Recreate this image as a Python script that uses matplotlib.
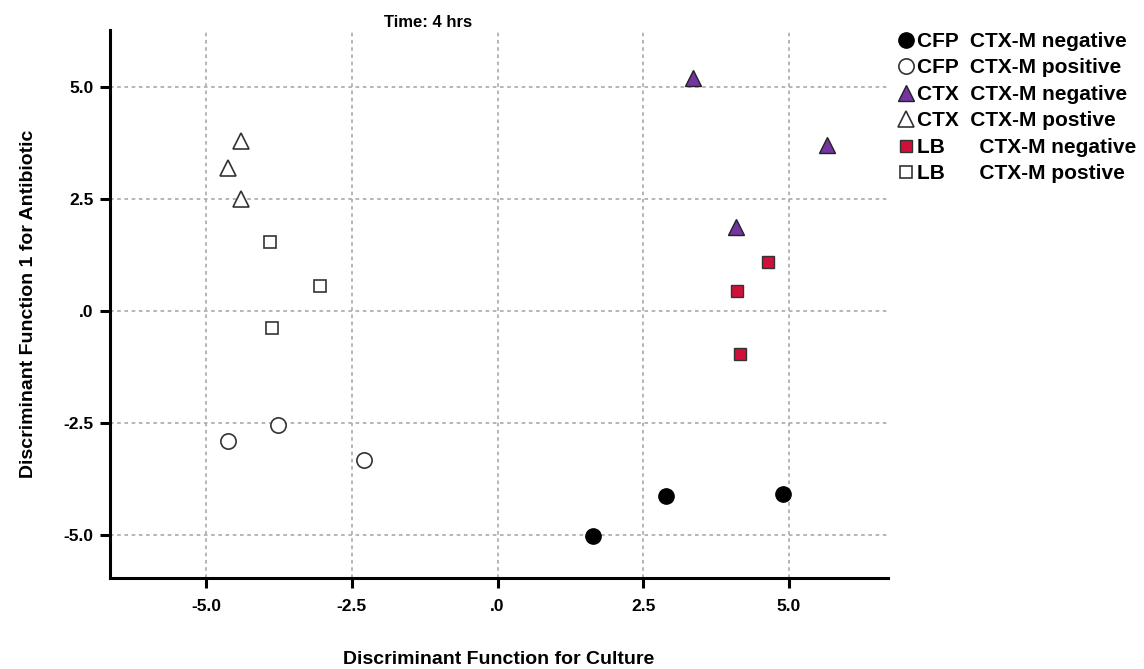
import matplotlib
matplotlib.use("Agg")
import matplotlib.pyplot as plt

plt.rcParams['font.family'] = ['Liberation Sans', 'DejaVu Sans']

# group scores
cfp_neg_x = [1.63, 2.89, 4.90]
cfp_neg_y = [-5.02, -4.13, -4.08]
cfp_pos_x = [-4.62, -3.76, -2.30]
cfp_pos_y = [-2.90, -2.54, -3.33]
ctx_neg_x = [3.35, 5.65, 4.09]
ctx_neg_y = [5.20, 3.71, 1.88]
ctx_pos_x = [-4.40, -4.62, -4.40]
ctx_pos_y = [3.79, 3.19, 2.50]
lb_neg_x = [4.64, 4.11, 4.16]
lb_neg_y = [1.09, 0.45, -0.96]
lb_pos_x = [-3.90, -3.04, -3.87]
lb_pos_y = [1.54, 0.56, -0.38]

ticks = [-5.0, -2.5, 0.0, 2.5, 5.0]
tick_labels = ["-5.0", "-2.5", ".0", "2.5", "5.0"]

fig = plt.figure(figsize=(11.44, 6.69), dpi=100)
ax = fig.add_axes([0.0962, 0.136, 0.680, 0.819])

ax.plot(cfp_neg_x, cfp_neg_y, 'o', ms=11, mfc='black', mec='black',
        label="CFP  CTX-M negative")
ax.plot(cfp_pos_x, cfp_pos_y, 'o', ms=11, mfc='white', mec='#333333', mew=1.2,
        label="CFP  CTX-M positive")
ax.plot(ctx_neg_x, ctx_neg_y, '^', ms=12, mfc='#7336A0', mec='#222222', mew=1.0,
        label="CTX  CTX-M negative")
ax.plot(ctx_pos_x, ctx_pos_y, '^', ms=12, mfc='white', mec='#333333', mew=1.2,
        label="CTX  CTX-M postive")
ax.plot(lb_neg_x, lb_neg_y, 's', ms=8.5, mfc='#D0103A', mec='#333333', mew=1.0,
        label="LB      CTX-M negative")
ax.plot(lb_pos_x, lb_pos_y, 's', ms=8.5, mfc='white', mec='#333333', mew=1.2,
        label="LB      CTX-M postive")

ax.set_xlim(-6.65, 6.7)
ax.set_ylim(-5.96, 6.27)
ax.set_xticks(ticks)
ax.set_xticklabels(tick_labels)
ax.set_yticks(ticks)
ax.set_yticklabels(tick_labels)

ax.grid(True, color='#b0b0b0', linestyle=(0, (2, 2)), linewidth=1.3)
ax.set_axisbelow(True)
for s in ['top', 'right']:
    ax.spines[s].set_visible(False)
for s in ['left', 'bottom']:
    ax.spines[s].set_linewidth(2.2)
ax.tick_params(width=2.2, length=7, labelsize=12.5)
ax.tick_params(axis='x', pad=8)
ax.tick_params(axis='y', pad=5)
for lbl in ax.get_xticklabels() + ax.get_yticklabels():
    lbl.set_fontweight('bold')

ax.set_xlabel("Discriminant Function for Culture", fontsize=14, fontweight='bold', labelpad=27)
ax.set_ylabel("Discriminant Function 1 for Antibiotic", fontsize=14, fontweight='bold', labelpad=19)
fig.text(0.374, 0.967, "Time: 4 hrs", fontsize=12, fontweight='bold', ha='center', va='center')

leg = ax.legend(loc='upper left', bbox_to_anchor=(0.999, 1.012), frameon=False,
                fontsize=15, handletextpad=0.05, labelspacing=0.36, handlelength=1.0,
                borderaxespad=0)
for t in leg.get_texts():
    t.set_fontweight('bold')

fig.savefig("out.png", dpi=100)
